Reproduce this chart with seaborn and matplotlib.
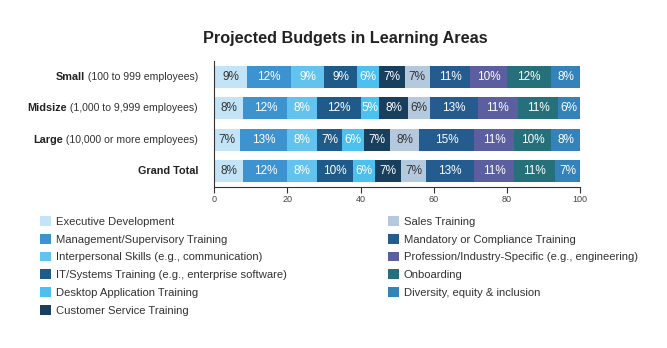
import matplotlib
matplotlib.use("Agg")
import matplotlib.pyplot as plt
import seaborn as sns
import pandas as pd
import numpy as np

groups = ["Small", "Midsize", "Large", "Grand Total"]
group_notes = ["(100 to 999 employees)", "(1,000 to 9,999 employees)", "(10,000 or more employees)", ""]
areas = [
    "Executive Development",
    "Management/Supervisory Training",
    "Interpersonal Skills (e.g., communication)",
    "IT/Systems Training (e.g., enterprise software)",
    "Desktop Application Training",
    "Customer Service Training",
    "Sales Training",
    "Mandatory or Compliance Training",
    "Profession/Industry-Specific (e.g., engineering)",
    "Onboarding",
    "Diversity, equity & inclusion",
]
small = [9, 12, 9, 9, 6, 7, 7, 11, 10, 12, 8]
midsize = [8, 12, 8, 12, 5, 8, 6, 13, 11, 11, 6]
large = [7, 13, 8, 7, 6, 7, 8, 15, 11, 10, 8]
grand_total = [8, 12, 8, 10, 6, 7, 7, 13, 11, 11, 7]
colors = ["#c2e4f6", "#3d92d0", "#63c3ef", "#1e5b8a", "#4cc0ef", "#193f5e",
          "#b4c8de", "#255c8f", "#5b5e9f", "#25707a", "#3383ba"]
dark_text_areas = ["Executive Development", "Sales Training"]

sns.set_theme(style="white")
FONT = ["Liberation Sans", "DejaVu Sans"]
plt.rcParams["font.family"] = FONT

rows = []
for g, vals in zip(groups, [small, midsize, large, grand_total]):
    cum = np.cumsum(vals)
    for a, v, c in zip(areas, vals, cum):
        rows.append({"group": g, "area": a, "value": v, "cum": c, "start": c - v})
df = pd.DataFrame(rows)

fig = plt.figure(figsize=(6.67, 3.48), dpi=100)
ax = fig.add_axes([0.321, 0.463, 0.549, 0.362])

for a, col in reversed(list(zip(areas, colors))):
    sub = df[df["area"] == a]
    sns.barplot(data=sub, x="cum", y="group", order=groups, color=col,
                orient="h", width=0.7, ax=ax, label=a, saturation=1,
                edgecolor="none", linewidth=0)
if ax.get_legend() is not None:
    ax.get_legend().remove()

for _, r in df.iterrows():
    yi = groups.index(r["group"])
    tc = "#333333" if r["area"] in dark_text_areas else "white"
    ax.text(r["start"] + r["value"] / 2, yi, f"{int(r['value'])}%", ha="center",
            va="center", fontsize=8.5, color=tc)

ax.set_xlim(0, 100)
ax.set_ylim(3.5, -0.5)
ax.set_xticks([0, 20, 40, 60, 80, 100])
ax.tick_params(axis="x", length=4, width=0.8, color="#333333", labelsize=6.5,
               labelcolor="#444444", pad=2, bottom=True)
ax.set_yticks(range(len(groups)))
ax.set_yticklabels([])
ax.tick_params(axis="y", length=0)
ax.set_xlabel("")
ax.set_ylabel("")
for s in ["top", "right"]:
    ax.spines[s].set_visible(False)
for s in ["left", "bottom"]:
    ax.spines[s].set_color("#333333")
    ax.spines[s].set_linewidth(0.8)

# group labels: bold name + regular note
fig.canvas.draw()
renderer = fig.canvas.get_renderer()
xr = 198
for i, (g, n) in enumerate(zip(groups, group_notes)):
    ydisp = ax.transData.transform((0, i))[1]
    x_right = xr
    if n:
        t = fig.text(x_right / 667, ydisp / 348, " " + n, ha="right", va="center",
                     fontsize=7.6, color="#333333")
        bb = t.get_window_extent(renderer)
        x_right = bb.x0
    fig.text(x_right / 667, ydisp / 348, g, ha="right", va="center",
             fontsize=7.8, fontweight="bold", color="#222222")

fig.text(0.517, 0.89, "Projected Budgets in Learning Areas", ha="center", va="center",
         fontsize=11.7, fontweight="bold", color="#222222")

handles, labels = ax.get_legend_handles_labels()
hmap = dict(zip(labels, handles))
common = dict(frameon=False, fontsize=8.1, handlelength=0.95, handleheight=0.95,
              handletextpad=0.45, labelspacing=0.63, labelcolor="#333333",
              borderaxespad=0, borderpad=0, loc="upper left")
leg1 = fig.legend([hmap[a] for a in areas[:6]], areas[:6],
                  bbox_to_anchor=(40 / 667, 1 - 216 / 348), **common)
leg2 = fig.legend([hmap[a] for a in areas[6:]], areas[6:],
                  bbox_to_anchor=(388 / 667, 1 - 216 / 348), **common)

fig.savefig("out.png", dpi=100)
